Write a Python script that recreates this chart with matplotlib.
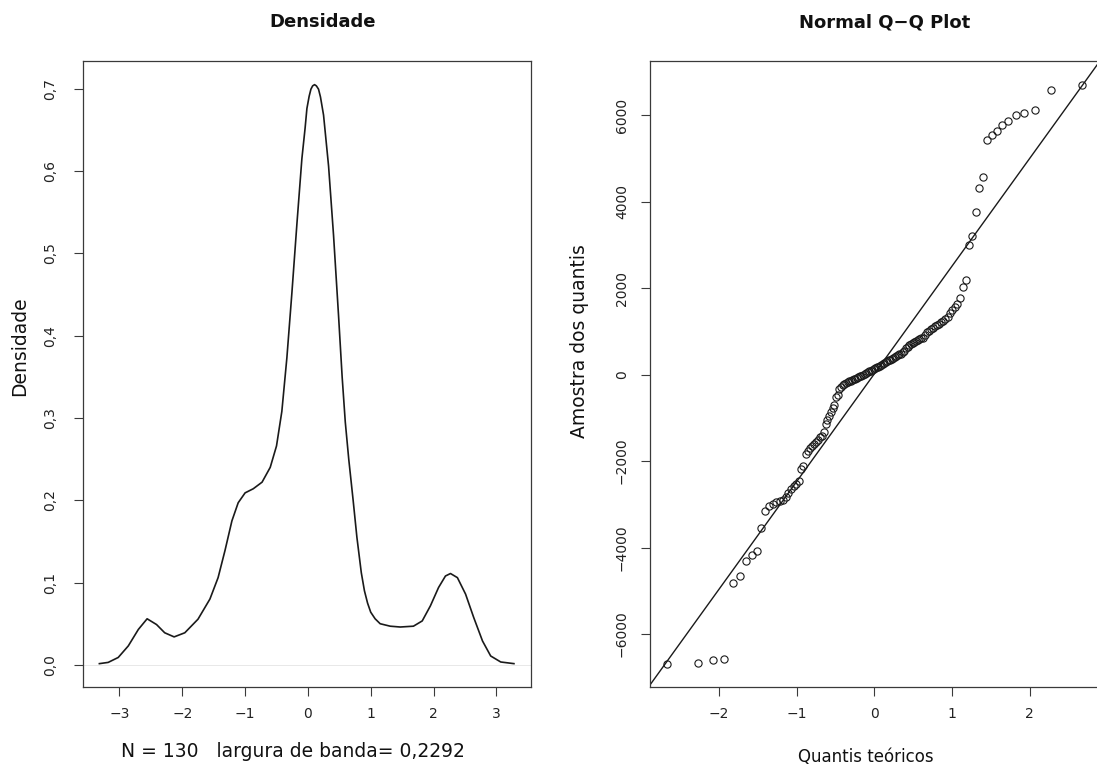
#!/usr/bin/env python3
"""Density curve and normal Q-Q plot, side by side (R-style look)."""

from statistics import NormalDist

import matplotlib

matplotlib.use("Agg")
import matplotlib.pyplot as plt
import numpy as np

# Density estimate.
dens_x = [-3.32, -3.18, -3.02, -2.86, -2.70, -2.56, -2.41, -2.28, -2.13, -1.96,
          -1.75, -1.56, -1.43, -1.32, -1.21, -1.11, -1.00, -0.87, -0.73, -0.60,
          -0.50, -0.415, -0.335, -0.255, -0.175, -0.096, -0.045, -0.016, 0.02, 0.048,
          0.075, 0.106, 0.135, 0.169, 0.20, 0.249, 0.329, 0.408, 0.488, 0.545,
          0.595, 0.65, 0.72, 0.78, 0.85, 0.90, 0.95, 1.00, 1.07, 1.15,
          1.31, 1.47, 1.68, 1.82, 1.95, 2.08, 2.19, 2.27, 2.38, 2.51,
          2.64, 2.78, 2.91, 3.07, 3.28]
dens_y = [0.0015, 0.003, 0.009, 0.023, 0.043, 0.056, 0.049, 0.039, 0.034, 0.039,
          0.0555, 0.080, 0.106, 0.139, 0.175, 0.197, 0.209, 0.214, 0.222, 0.240,
          0.266, 0.308, 0.373, 0.452, 0.536, 0.615, 0.652, 0.676, 0.691, 0.6995,
          0.7035, 0.705, 0.7035, 0.6995, 0.690, 0.668, 0.606, 0.522, 0.424, 0.35,
          0.295, 0.25, 0.20, 0.155, 0.112, 0.09, 0.075, 0.064, 0.056, 0.050,
          0.047, 0.046, 0.047, 0.0534, 0.0717, 0.094, 0.108, 0.111, 0.106, 0.086,
          0.0575, 0.029, 0.0108, 0.0035, 0.0015]
dens_n = 130
dens_bw = "0,2292"
dens_xticks = [-3, -2, -1, 0, 1, 2, 3]
dens_yticks = [0.0, 0.1, 0.2, 0.3, 0.4, 0.5, 0.6, 0.7]

# Sorted sample values for the Q-Q plot (130 points).
sample = [
    -6685, -6662, -6592, -6569, -4810, -4650, -4310, -4170, -4090, -3550,
    -3160, -3030, -2990, -2950, -2920, -2900, -2840, -2740, -2650, -2580,
    -2520, -2450, -2180, -2100, -1840, -1760, -1700, -1640, -1600, -1560,
    -1520, -1450, -1410, -1330, -1140, -1040, -960, -870, -780, -700,
    -520, -480, -330, -280, -240, -210, -190, -170, -150, -135,
    -120, -105, -90, -75, -60, -40, -20, 0, 20, 40,
    60, 80, 95, 110, 130, 150, 170, 190, 210, 230,
    250, 270, 290, 310, 330, 350, 370, 390, 410, 430,
    450, 470, 490, 520, 560, 630, 650, 680, 710, 740,
    760, 780, 800, 820, 840, 860, 920, 980, 1020, 1060,
    1090, 1120, 1150, 1180, 1210, 1250, 1290, 1340, 1430, 1500,
    1560, 1640, 1770, 2041, 2196, 2991, 3222, 3762, 4318, 4573,
    5423, 5539, 5639, 5770, 5863, 6002, 6055, 6118, 6581, 6713,
]
# Reference line as drawn in the picture.
line_intercept = 20.0
line_slope = 2495.0
qq_xticks = [-2, -1, 0, 1, 2]
qq_yticks = [-6000, -4000, -2000, 0, 2000, 4000, 6000]

INK = "#1a1a1a"
BOX = "#3a3a3a"


def r_lim(values):
    lo, hi = float(np.min(values)), float(np.max(values))
    ext = 0.04 * (hi - lo)
    return lo - ext, hi + ext


def style_axes(ax):
    for sp in ax.spines.values():
        sp.set_color(BOX)
        sp.set_linewidth(0.9)
    ax.tick_params(axis="both", direction="out", length=6.5, width=0.8,
                   color=BOX, labelsize=10, labelcolor="#222222")
    ax.tick_params(axis="x", pad=8)
    for lab in ax.get_yticklabels():
        lab.set_rotation(90)
        lab.set_va("center")


def main() -> None:
    plt.rcParams["font.family"] = ["DejaVu Sans"]
    fig = plt.figure(figsize=(10.97, 7.64), dpi=100)

    # --- density panel ---
    ax1 = fig.add_axes([0.07548, 0.10105, 0.40812, 0.81846])
    ax1.axhline(0, color="#e4e4e4", linewidth=0.6, zorder=1)
    ax1.plot(dens_x, dens_y, color=INK, linewidth=1.2, zorder=2,
             solid_joinstyle="round")
    ax1.set_xlim(*r_lim(dens_x))
    ax1.set_ylim(*r_lim(dens_y))
    ax1.set_xticks(dens_xticks)
    ax1.set_yticks(dens_yticks)
    ax1.set_yticklabels([f"{v:.1f}".replace(".", ",") for v in dens_yticks])
    style_axes(ax1)
    ax1.tick_params(axis="y", pad=12)

    # --- Q-Q panel ---
    n = len(sample)
    nd = NormalDist()
    theo = [nd.inv_cdf((i + 0.5) / n) for i in range(n)]
    ax2 = fig.add_axes([0.59298, 0.10105, 0.40802, 0.81846])
    ax2.plot(theo, sample, linestyle="none", marker="o", markersize=5.2,
             markerfacecolor="none", markeredgecolor=INK, markeredgewidth=0.8,
             zorder=3)
    ax2.axline((0, line_intercept), slope=line_slope, color=INK, linewidth=1.0,
               zorder=2)
    ax2.set_xlim(*r_lim(theo))
    ax2.set_ylim(*r_lim(sample))
    ax2.set_xticks(qq_xticks)
    ax2.set_yticks(qq_yticks)
    style_axes(ax2)
    ax2.tick_params(axis="y", pad=9)

    # --- titles and axis labels placed as in the original ---
    W, H = 1097.0, 764.0
    fig.text(322.8 / W, 1 - 22 / H, "Densidade", ha="center", va="center",
             fontsize=13, fontweight="bold", color="#111111")
    fig.text(885 / W, 1 - 22 / H, "Normal Q\u2212Q Plot", ha="center", va="center",
             fontsize=13, fontweight="bold", color="#111111")
    fig.text(19.3 / W, 1 - 346 / H, "Densidade", rotation=90, ha="center",
             va="center", fontsize=13.5, color="#111111")
    fig.text(292.5 / W, 1 - 751.7 / H,
             f"N = {dens_n}   largura de banda= {dens_bw}",
             ha="center", va="center", fontsize=13.5, color="#111111")
    fig.text(579.6 / W, 1 - 341.5 / H, "Amostra dos quantis", rotation=90,
             ha="center", va="center", fontsize=13.5, color="#111111")
    fig.text(866 / W, 1 - 757 / H, "Quantis teóricos", ha="center", va="center",
             fontsize=12, color="#111111")

    fig.savefig("out.png", dpi=100)
    plt.close(fig)


if __name__ == "__main__":
    main()
